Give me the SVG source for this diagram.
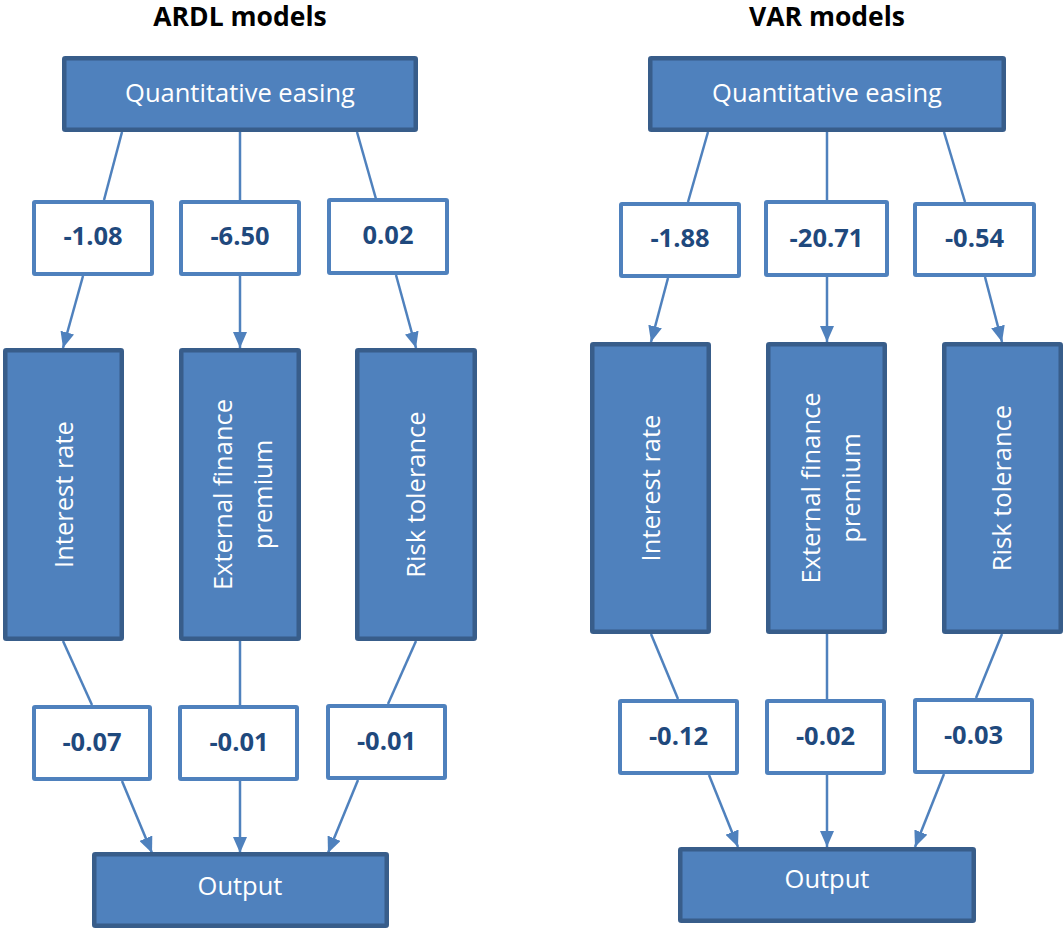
<svg xmlns="http://www.w3.org/2000/svg" width="1063" height="929" viewBox="0 0 1063 929">
<defs>
<style>
.main{fill:#4F81BD;stroke:#385D8A;stroke-width:4.5}
.val{fill:#FFFFFF;stroke:#4F81BD;stroke-width:4}
.wt{font-family:"Open Sans","Liberation Sans",sans-serif;font-size:25.5px;fill:#FFFFFF;text-anchor:middle}
.num{font-family:"Open Sans","Liberation Sans",sans-serif;font-size:25.5px;font-weight:bold;fill:#1F497D;text-anchor:middle}
.title{font-family:"Open Sans","Liberation Sans",sans-serif;font-size:26.5px;font-weight:bold;fill:#000000;text-anchor:middle}
.ln{stroke:#4F81BD;stroke-width:2.5;fill:none}
.ar{stroke:#4F81BD;stroke-width:2.5;fill:none;marker-end:url(#arrow)}
</style>
<marker id="arrow" markerUnits="userSpaceOnUse" markerWidth="16" markerHeight="14" refX="16" refY="7" orient="auto">
<path d="M0,0 L16,7 L0,14 z" fill="#4F81BD"/>
</marker>
</defs>
<rect width="1063" height="929" fill="#FFFFFF"/>

<text class="title" x="240" y="26">ARDL models</text>
<text class="title" x="827" y="26">VAR models</text>

<g id="connectors">
<!-- ARDL -->
<line class="ln" x1="122" y1="132" x2="104" y2="200"/>
<line class="ln" x1="240" y1="132" x2="240" y2="200"/>
<line class="ln" x1="357" y1="132" x2="376" y2="199"/>
<line class="ar" x1="83" y1="276" x2="63" y2="348"/>
<line class="ar" x1="240" y1="276" x2="240" y2="348"/>
<line class="ar" x1="396" y1="275" x2="416" y2="348"/>
<line class="ln" x1="63" y1="641" x2="92" y2="705"/>
<line class="ln" x1="240" y1="641" x2="240" y2="705"/>
<line class="ln" x1="416" y1="641" x2="388" y2="704"/>
<line class="ar" x1="122" y1="781" x2="152" y2="853"/>
<line class="ar" x1="240" y1="781" x2="240" y2="853"/>
<line class="ar" x1="358" y1="780" x2="328" y2="853"/>
<!-- VAR -->
<line class="ln" x1="708" y1="132" x2="688" y2="202"/>
<line class="ln" x1="827" y1="132" x2="827" y2="200"/>
<line class="ln" x1="944" y1="132" x2="965" y2="202"/>
<line class="ar" x1="668" y1="278" x2="651" y2="342"/>
<line class="ar" x1="827" y1="277" x2="827" y2="342"/>
<line class="ar" x1="985" y1="277" x2="1002" y2="342"/>
<line class="ln" x1="651" y1="634" x2="678" y2="699"/>
<line class="ln" x1="827" y1="634" x2="827" y2="699"/>
<line class="ln" x1="1002" y1="634" x2="976" y2="698"/>
<line class="ar" x1="709" y1="775" x2="738" y2="847"/>
<line class="ar" x1="827" y1="775" x2="827" y2="847"/>
<line class="ar" x1="944" y1="774" x2="915" y2="847"/>
</g>

<!-- ARDL nodes -->
<g id="ardl-qe">
<rect class="main" x="64.25" y="58.25" width="351.5" height="71.5" rx="1"/>
<text class="wt" x="240" y="102">Quantitative easing</text>
</g>
<g id="ardl-v1">
<rect class="val" x="34" y="202" width="118" height="72" rx="1"/>
<text class="num" x="93" y="245">-1.08</text>
</g>
<g id="ardl-v2">
<rect class="val" x="181" y="202" width="118" height="72" rx="1"/>
<text class="num" x="240" y="245">-6.50</text>
</g>
<g id="ardl-v3">
<rect class="val" x="329" y="200" width="118" height="73" rx="1"/>
<text class="num" x="388" y="244">0.02</text>
</g>
<g id="ardl-interest">
<rect class="main" x="5.25" y="350.25" width="116.5" height="288.5" rx="1"/>
<text class="wt" transform="translate(63.5,494.5) rotate(-90)" x="0" y="9">Interest rate</text>
</g>
<g id="ardl-efp">
<rect class="main" x="181.25" y="350.25" width="117.5" height="288.5" rx="1"/>
<text class="wt" transform="translate(240,494.5) rotate(-90)"><tspan x="0" y="-8">External finance</tspan><tspan x="0" y="32">premium</tspan></text>
</g>
<g id="ardl-risk">
<rect class="main" x="357.25" y="350.25" width="117.5" height="288.5" rx="1"/>
<text class="wt" transform="translate(416,494.5) rotate(-90)" x="0" y="9">Risk tolerance</text>
</g>
<g id="ardl-v4">
<rect class="val" x="34" y="707" width="116" height="72" rx="1"/>
<text class="num" x="92" y="751">-0.07</text>
</g>
<g id="ardl-v5">
<rect class="val" x="180" y="707" width="117" height="72" rx="1"/>
<text class="num" x="239" y="751">-0.01</text>
</g>
<g id="ardl-v6">
<rect class="val" x="328" y="706" width="117" height="72" rx="1"/>
<text class="num" x="386.5" y="750">-0.01</text>
</g>
<g id="ardl-output">
<rect class="main" x="94.25" y="854.25" width="292.5" height="71.5" rx="1"/>
<text class="wt" x="240" y="895">Output</text>
</g>

<!-- VAR nodes -->
<g id="var-qe">
<rect class="main" x="650.25" y="58.25" width="353.5" height="71.5" rx="1"/>
<text class="wt" x="827" y="102">Quantitative easing</text>
</g>
<g id="var-v1">
<rect class="val" x="621" y="204" width="118" height="72" rx="1"/>
<text class="num" x="680" y="247">-1.88</text>
</g>
<g id="var-v2">
<rect class="val" x="766" y="202" width="121" height="73" rx="1"/>
<text class="num" x="826.5" y="247">-20.71</text>
</g>
<g id="var-v3">
<rect class="val" x="915" y="204" width="119" height="71" rx="1"/>
<text class="num" x="974.5" y="247">-0.54</text>
</g>
<g id="var-interest">
<rect class="main" x="592.25" y="344.25" width="116.5" height="287.5" rx="1"/>
<text class="wt" transform="translate(650.5,488) rotate(-90)" x="0" y="9">Interest rate</text>
</g>
<g id="var-efp">
<rect class="main" x="768.25" y="344.25" width="116.5" height="287.5" rx="1"/>
<text class="wt" transform="translate(826.5,488) rotate(-90)"><tspan x="0" y="-6.5">External finance</tspan><tspan x="0" y="33.5">premium</tspan></text>
</g>
<g id="var-risk">
<rect class="main" x="944.25" y="344.25" width="116.5" height="287.5" rx="1"/>
<text class="wt" transform="translate(1002,488) rotate(-90)" x="0" y="9">Risk tolerance</text>
</g>
<g id="var-v4">
<rect class="val" x="620" y="701" width="117" height="72" rx="1"/>
<text class="num" x="678.5" y="745">-0.12</text>
</g>
<g id="var-v5">
<rect class="val" x="767" y="701" width="117" height="72" rx="1"/>
<text class="num" x="825.5" y="745">-0.02</text>
</g>
<g id="var-v6">
<rect class="val" x="915" y="700" width="117" height="72" rx="1"/>
<text class="num" x="973.5" y="744">-0.03</text>
</g>
<g id="var-output">
<rect class="main" x="680.25" y="849.25" width="293.5" height="71.5" rx="1"/>
<text class="wt" x="827" y="888">Output</text>
</g>
</svg>
